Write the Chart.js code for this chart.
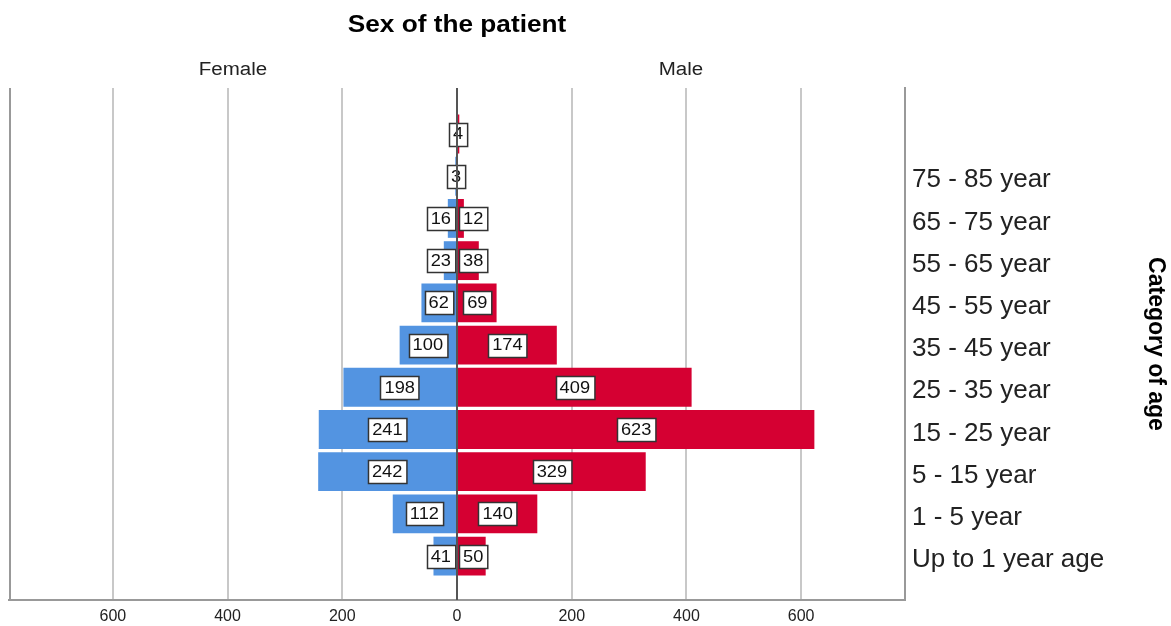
<!DOCTYPE html>
<html>
<head>
<meta charset="utf-8">
<script src="https://cdn.jsdelivr.net/npm/chart.js@4"></script>
<style>
    html, body { margin: 0; padding: 0; background: #fff; }
</style>
</head>
<body>
<canvas id="pyramid" width="1171" height="626"></canvas>
<script>
// categories top to bottom (top row has no label in the source)
let ageGroups = ['', '75 - 85 year', '65 - 75 year', '55 - 65 year', '45 - 55 year', '35 - 45 year',
    '25 - 35 year', '15 - 25 year', '5 - 15 year', '1 - 5 year', 'Up to 1 year age'];
let femaleCounts = [0, 3, 16, 23, 62, 100, 198, 241, 242, 112, 41];
let maleCounts = [4, 0, 12, 38, 69, 174, 409, 623, 329, 140, 50];
let xTicks = [-600, -400, -200, 0, 200, 400, 600];

const FONT = "'Liberation Sans', Arial, sans-serif";
const STRETCH = 1.14; // source picture is a little wider than tall

function toPoints(values, sign) {
    return values.map((v, i) => ({ x: sign * v, y: i }));
}

function wideText(ctx, text, x, y) {
    ctx.save();
    ctx.translate(x, y);
    ctx.scale(STRETCH, 1);
    ctx.fillText(text, 0, 0);
    ctx.restore();
}

// white boxed value labels, like SPSS
const boxLabels = {
    id: 'boxLabels',
    afterDatasetsDraw(chart) {
        const ctx = chart.ctx;
        ctx.save();
        ctx.font = '16px ' + FONT;
        ctx.textAlign = 'center';
        ctx.textBaseline = 'middle';
        chart.data.datasets.forEach((ds, di) => {
            const meta = chart.getDatasetMeta(di);
            meta.data.forEach((bar, i) => {
                const v = Math.abs(ds.data[i].x);
                if (!v) return;
                const text = String(v);
                const w = ctx.measureText(text).width * STRETCH + 8;
                const h = 23;
                const sign = bar.x < bar.base ? -1 : 1;
                let cx = (bar.x + bar.base) / 2;
                const minOff = w / 2 + 1;
                if (Math.abs(cx - bar.base) < minOff) cx = bar.base + sign * minOff;
                if (v < 5) cx = bar.base;
                const x0 = Math.round(cx - w / 2) + 0.5;
                const y0 = Math.round(bar.y - h / 2) + 0.5;
                ctx.fillStyle = '#fff';
                ctx.fillRect(x0, y0, w, h);
                ctx.strokeStyle = '#333';
                ctx.lineWidth = 1.5;
                ctx.strokeRect(x0, y0, w, h);
                ctx.fillStyle = '#111';
                wideText(ctx, text, cx, bar.y + 1);
            });
        });
        ctx.restore();
    }
};

// left frame line, zero line, headings
const frame = {
    id: 'frame',
    afterDraw(chart) {
        const ctx = chart.ctx;
        const a = chart.chartArea;
        const zero = chart.scales.x.getPixelForValue(0);
        ctx.save();
        ctx.strokeStyle = '#999';
        ctx.lineWidth = 2;
        ctx.beginPath();
        ctx.moveTo(a.left + 1, a.top);
        ctx.lineTo(a.left + 1, a.bottom);
        ctx.stroke();
        ctx.strokeStyle = '#555';
        ctx.beginPath();
        ctx.moveTo(zero, a.top);
        ctx.lineTo(zero, a.bottom);
        ctx.stroke();

        ctx.fillStyle = '#222';
        ctx.textAlign = 'center';
        ctx.textBaseline = 'middle';
        ctx.font = '18px ' + FONT;
        wideText(ctx, 'Female', (a.left + zero) / 2, 70);
        wideText(ctx, 'Male', (zero + a.right) / 2, 70);
        ctx.fillStyle = '#000';
        ctx.font = 'bold 23px ' + FONT;
        wideText(ctx, 'Sex of the patient', zero, 26);
        ctx.restore();
    }
};

new Chart(document.getElementById('pyramid').getContext('2d'), {
    type: 'bar',
    data: {
        datasets: [{
            label: 'Female',
            data: toPoints(femaleCounts, -1),
            backgroundColor: '#5394e1',
            barPercentage: 0.92,
            categoryPercentage: 1
        }, {
            label: 'Male',
            data: toPoints(maleCounts, 1),
            backgroundColor: '#d50032',
            barPercentage: 0.92,
            categoryPercentage: 1
        }]
    },
    options: {
        indexAxis: 'y',
        responsive: false,
        animation: false,
        layout: { padding: { left: 9, top: 88, right: 0, bottom: 0 } },
        plugins: {
            legend: { display: false },
            tooltip: { enabled: false }
        },
        scales: {
            x: {
                type: 'linear',
                stacked: true,
                min: -781,
                max: 781,
                afterBuildTicks: function (scale) {
                    scale.ticks = xTicks.map(v => ({ value: v }));
                },
                afterFit: function (scale) { scale.height = 26; },
                ticks: {
                    padding: 7,
                    maxRotation: 0,
                    color: '#222',
                    font: { family: FONT, size: 16 },
                    callback: function (value) { return Math.abs(value); }
                },
                grid: {
                    drawTicks: false,
                    color: ctx => ctx.tick && ctx.tick.value === 0 ? 'rgba(0,0,0,0)' : '#c8c8c8',
                    lineWidth: 2
                },
                border: { color: '#999', width: 2 }
            },
            y: {
                type: 'linear',
                position: 'right',
                stacked: true,
                reverse: true,
                offset: false,
                min: -1.09,
                max: 11.04,
                afterBuildTicks: function (scale) {
                    scale.ticks = ageGroups.map((g, i) => ({ value: i }));
                },
                afterFit: function (scale) { scale.width = 266; },
                ticks: {
                    padding: 7,
                    labelOffset: 4,
                    color: '#222',
                    font: { family: FONT, size: 26 },
                    callback: function (value) { return ageGroups[value] || ''; }
                },
                grid: { display: false, drawTicks: false },
                border: { color: '#999', width: 2 },
                title: {
                    display: true,
                    text: 'Category of age',
                    color: '#000',
                    font: { family: FONT, size: 23, weight: 'bold' },
                    padding: { top: 2, bottom: 0 }
                }
            }
        }
    },
    plugins: [boxLabels, frame]
});
</script>
</body>
</html>
